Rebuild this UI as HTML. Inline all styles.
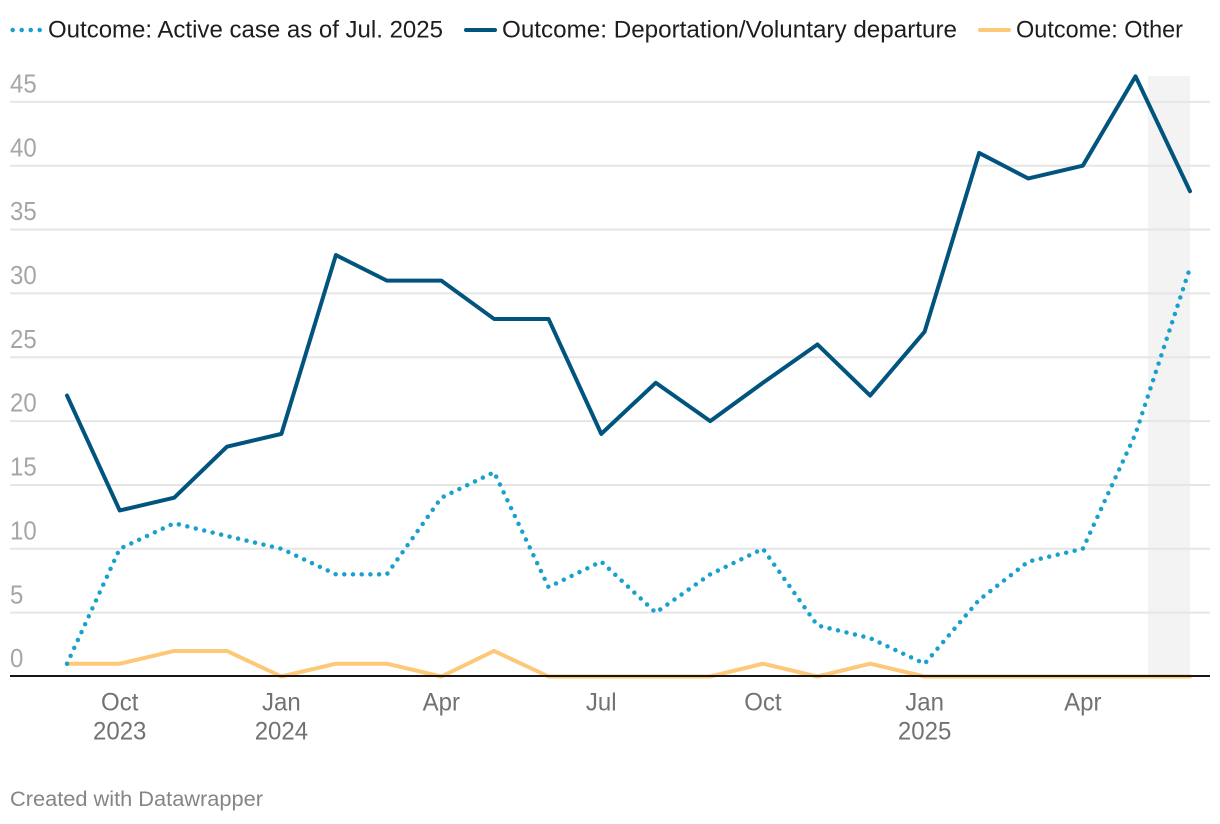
<!DOCTYPE html>
<html lang="en">
<head>
<meta charset="utf-8">
<title>Immigration case outcomes</title>
<style>
html,body{margin:0;padding:0;background:#fff;width:1220px;height:824px;overflow:hidden}
svg{display:block;font-family:"Liberation Sans",sans-serif}
</style>
</head>
<body>
<svg id="chart" width="1220" height="824" viewBox="0 0 1220 824" xmlns="http://www.w3.org/2000/svg">
  <rect width="1220" height="824" fill="#fff"/>
  <g>
    <g>
      <line x1="12.7" y1="30" x2="41" y2="30" stroke="#18a1cd" stroke-width="4.5" stroke-linecap="round" stroke-dasharray="0 9"/>
      <text x="48" y="37.6" font-size="24.5" fill="#1d1d1d" textLength="395" lengthAdjust="spacingAndGlyphs">Outcome: Active case as of Jul. 2025</text>
    </g>
    <g>
      <line x1="466" y1="30" x2="495" y2="30" stroke="#00547d" stroke-width="4" stroke-linecap="round"/>
      <text x="502" y="37.6" font-size="24.5" fill="#1d1d1d" textLength="455" lengthAdjust="spacingAndGlyphs">Outcome: Deportation/Voluntary departure</text>
    </g>
    <g>
      <line x1="980" y1="30" x2="1009" y2="30" stroke="#fdc877" stroke-width="4" stroke-linecap="round"/>
      <text x="1016" y="37.6" font-size="24.5" fill="#1d1d1d" textLength="167" lengthAdjust="spacingAndGlyphs">Outcome: Other</text>
    </g>
  </g>
  <rect x="1148" y="76" width="42" height="600" fill="#f3f3f3"/>
  <g id="grid"></g>
  <g id="ylabels"></g>
  <g id="xlabels"></g>
  <g id="series"></g>
  <line x1="10" y1="676" x2="1210" y2="676" stroke="#161616" stroke-width="2"/>
  <text x="10" y="806" font-size="21.5" fill="#858585" textLength="253" lengthAdjust="spacingAndGlyphs">Created with Datawrapper</text>
</svg>
<script>
const months = ["2023-09","2023-10","2023-11","2023-12","2024-01","2024-02","2024-03","2024-04","2024-05","2024-06","2024-07","2024-08","2024-09","2024-10","2024-11","2024-12","2025-01","2025-02","2025-03","2025-04","2025-05","2025-06"];
const activeCases = [1,10,12,11,10,8,8,14,16,7,9,5,8,10,4,3,1,6,9,10,19,32];
const deportations = [22,13,14,18,19,33,31,31,28,28,19,23,20,23,26,22,27,41,39,40,47,38];
const otherOutcomes = [1,1,2,2,0,1,1,0,2,0,0,0,0,1,0,1,0,0,0,0,0,0];
const yTicks = [0,5,10,15,20,25,30,35,40,45];
const xTickDates = ["2023-10","2024-01","2024-04","2024-07","2024-10","2025-01","2025-04"];
const xTickMonths = ["Oct","Jan","Apr","Jul","Oct","Jan","Apr"];
const xTickYears = ["2023","2024","","","","2025",""];

const NS = "http://www.w3.org/2000/svg";
const t0 = Date.parse(months[0] + "-01");
const t1 = Date.parse(months[months.length - 1] + "-01");
function xScale(m) {
  return 67 + (Date.parse(m + "-01") - t0) / (t1 - t0) * (1190 - 67);
}
function yScale(v) {
  return 676.5 - v * 12.77;
}
function make(tag, attrs, parent) {
  const el = document.createElementNS(NS, tag);
  for (const k in attrs) el.setAttribute(k, attrs[k]);
  parent.appendChild(el);
  return el;
}
function condense(el, factor) {
  el.setAttribute("textLength", (el.getComputedTextLength() * factor).toFixed(2));
  el.setAttribute("lengthAdjust", "spacingAndGlyphs");
}
const grid = document.getElementById("grid");
const ylabels = document.getElementById("ylabels");
const xlabels = document.getElementById("xlabels");
const series = document.getElementById("series");

yTicks.forEach(function (v) {
  const y = yScale(v);
  if (v !== 0) {
    const line = make("line", {x1: 10, x2: 1210, y1: y, y2: y, stroke: "#e6e6e6", "stroke-width": 2}, grid);
    
    
  }
  const label = make("text", {x: 10, y: y - 9.4, "font-size": 25.5, fill: "#a6a6a6"}, ylabels);
  
  
  label.textContent = String(v);
  condense(label, 0.94);
});

xTickDates.forEach(function (d, i) {
  const x = xScale(d);
  const month = make("text", {x: x, y: 710.5, "font-size": 25, fill: "#727272", "text-anchor": "middle"}, xlabels);
  
  
  month.textContent = xTickMonths[i];
  condense(month, 0.96);
  if (xTickYears[i]) {
    const year = make("text", {x: x, y: 739.5, "font-size": 25, fill: "#727272", "text-anchor": "middle"}, xlabels);
    
    
    year.textContent = xTickYears[i];
    condense(year, 0.96);
  }
});

function points(values) {
  return values.map(function (v, i) {
    return xScale(months[i]).toFixed(2) + "," + yScale(v).toFixed(2);
  }).join(" ");
}

const otherLine = make("polyline", {points: points(otherOutcomes), fill: "none", stroke: "#fdc877", "stroke-width": 4, "stroke-linecap": "round", "stroke-linejoin": "round"}, series);



const deportLine = make("polyline", {points: points(deportations), fill: "none", stroke: "#00547d", "stroke-width": 4, "stroke-linecap": "round", "stroke-linejoin": "round"}, series);



const activeLine = make("polyline", {points: points(activeCases), fill: "none", stroke: "#18a1cd", "stroke-width": 4.5, "stroke-linecap": "round", "stroke-linejoin": "round", "stroke-dasharray": "0 8.7"}, series);


</script>
</body>
</html>
